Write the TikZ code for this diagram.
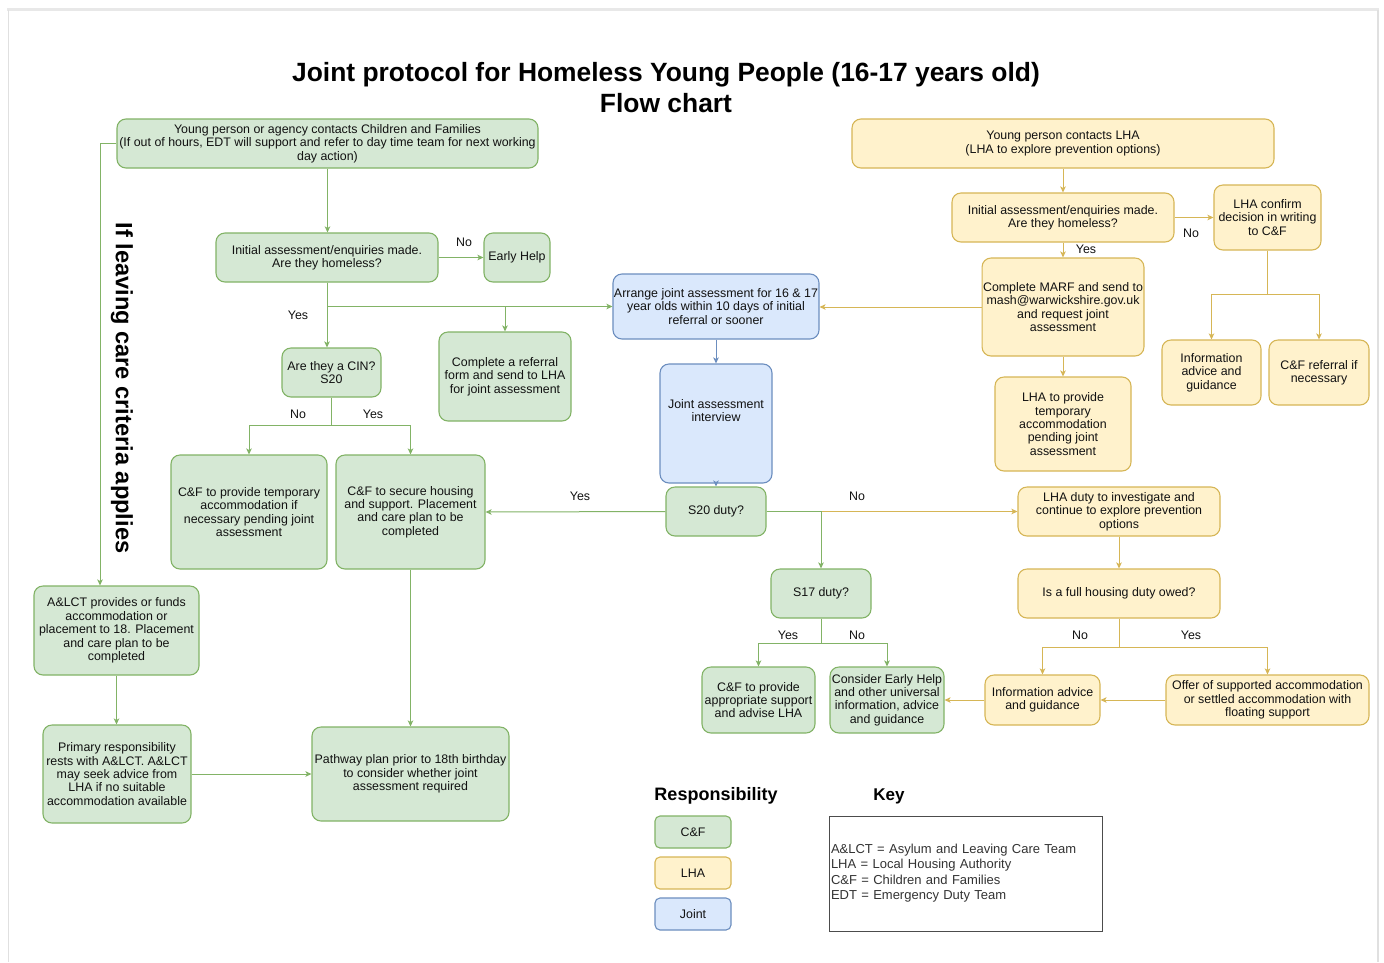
\documentclass[tikz,border=0pt]{standalone}
\usepackage{fontspec}
\setmainfont{Liberation Sans}
\usetikzlibrary{arrows.meta,calc}
\definecolor{cffill}{HTML}{D5E8D4}
\definecolor{cfline}{HTML}{82B366}
\definecolor{lhafill}{HTML}{FFF2CC}
\definecolor{lhaline}{HTML}{D6B656}
\definecolor{jtfill}{HTML}{DAE8FC}
\definecolor{jtline}{HTML}{6C8EBF}
\definecolor{txt}{HTML}{111111}
\definecolor{keytxt}{HTML}{333333}
\newcommand\nfs{\fontsize{12.4}{13.4}\selectfont}
\tikzset{
  box/.style={rounded corners=9pt, line width=1.1pt, align=center, inner sep=1pt, font=\nfs, text=txt},
  cf/.style={box, fill=cffill, draw=cfline},
  lha/.style={box, fill=lhafill, draw=lhaline},
  jt/.style={box, fill=jtfill, draw=jtline},
  tip/.style={-{Stealth[length=6pt,width=5.5pt,inset=1.5pt]}},
  garr/.style={draw=cfline, line width=1pt, tip},
  yarr/.style={draw=lhaline, line width=1pt, tip},
  barr/.style={draw=jtline, line width=1pt, tip},
  lbl/.style={font=\nfs, text=txt, inner sep=0pt},
}
\begin{document}
\begin{tikzpicture}[x=1pt,y=-1pt]
\useasboundingbox (0,0) rectangle (1384,962);
\fill[white] (0,0) rectangle (1384,962);
% frame
\draw[line width=3pt, draw=black!9] (7,9.5) -- (1379,9.5);
\draw[line width=1.5pt, draw=black!12] (8.5,9.5) -- (8.5,962);
\draw[line width=2pt, draw=black!12] (1378,9.5) -- (1378,962);

% title
\node[align=center, font=\fontsize{26.4}{31}\selectfont\bfseries, text=black] (title) at (666,87.5)
  {Joint protocol for Homeless Young People (16-17 years old)\\Flow chart};

% vertical text
\node[rotate=-90, font=\fontsize{23.6}{26}\selectfont\bfseries, text=black] (leaving) at (122,388)
  {If leaving care criteria applies};

% C&F side
\node[cf, minimum width=421pt, minimum height=49pt] (ypcf) at (327.5,143.5)
  {Young person or agency contacts Children and Families\\(If out of hours, EDT will support and refer to day time team for next working\\day action)};
\node[cf, minimum width=222pt, minimum height=49pt] (init1) at (327,257.5)
  {Initial assessment/enquiries made.\\Are they homeless?};
\node[cf, minimum width=66pt, minimum height=49pt] (early) at (517,257.5) {Early Help};
\node[cf, minimum width=99pt, minimum height=49pt] (cin) at (331.5,372.5) {Are they a CIN?\\S20};
\node[cf, minimum width=132pt, minimum height=89pt] (refer) at (505,376.5)
  {Complete a referral\\form and send to LHA\\for joint assessment};
\node[cf, minimum width=156pt, minimum height=114pt] (cftemp) at (249,512)
  {C\&F to provide temporary\\accommodation if\\necessary pending joint\\assessment};
\node[cf, minimum width=149pt, minimum height=114pt] (cfsecure) at (410.5,512)
  {C\&F to secure housing\\and support. Placement\\and care plan to be\\completed};
\node[cf, minimum width=165pt, minimum height=89pt] (alct) at (116.5,630.5)
  {A\&LCT provides or funds\\accommodation or\\placement to 18. Placement\\and care plan to be\\completed};
\node[cf, minimum width=148pt, minimum height=98pt] (primary) at (117,774)
  {Primary responsibility\\rests with A\&LCT. A\&LCT\\may seek advice from\\LHA if no suitable\\accommodation available};
\node[cf, minimum width=197pt, minimum height=94pt] (pathway) at (410.5,774)
  {Pathway plan prior to 18th birthday\\to consider whether joint\\assessment required};

% joint
\node[jt, minimum width=206pt, minimum height=65pt] (arrange) at (716,306.5)
  {Arrange joint assessment for 16 \& 17\\year olds within 10 days of initial\\referral or sooner};
\node[jt, minimum width=112pt, minimum height=119pt] (interview) at (716,423.5)
  {\raisebox{33pt}{\begin{tabular}{@{}c@{}}Joint assessment\\interview\end{tabular}}};

\node[cf, minimum width=100pt, minimum height=49pt] (s20) at (716,511.5) {S20 duty?};
\node[cf, minimum width=100pt, minimum height=49pt] (s17) at (821,593.5) {S17 duty?};
\node[cf, minimum width=113pt, minimum height=66pt] (cfsupport) at (758.5,700)
  {C\&F to provide\\appropriate support\\and advise LHA};
\node[cf, minimum width=114pt, minimum height=66pt] (consider) at (887,700)
  {Consider Early Help\\and other universal\\information, advice\\and guidance};

% LHA side
\node[lha, minimum width=422pt, minimum height=49pt] (ypl) at (1063,143.5)
  {Young person contacts LHA\\(LHA to explore prevention options)};
\node[lha, minimum width=222pt, minimum height=49pt] (init2) at (1063,217.5)
  {Initial assessment/enquiries made.\\Are they homeless?};
\node[lha, minimum width=107pt, minimum height=65pt] (confirm) at (1267.5,217.5)
  {LHA confirm\\decision in writing\\to C\&F};
\node[lha, minimum width=160pt, minimum height=98pt] (marf) at (1063,307)
  {Complete MARF and send to\\mash@warwickshire.gov.uk\\and request joint\\assessment};
\node[lha, minimum width=136pt, minimum height=94pt] (lhatemp) at (1063,424)
  {LHA to provide\\temporary\\accommodation\\pending joint\\assessment};
\node[lha, minimum width=99pt, minimum height=65pt] (info1) at (1211.5,372.5)
  {Information\\advice and\\guidance};
\node[lha, minimum width=100pt, minimum height=65pt] (cfref) at (1319,372.5)
  {C\&F referral if\\necessary};
\node[lha, minimum width=202pt, minimum height=49pt] (lhaduty) at (1119,511.5)
  {LHA duty to investigate and\\continue to explore prevention\\options};
\node[lha, minimum width=202pt, minimum height=49pt] (fullduty) at (1119,593.5)
  {Is a full housing duty owed?};
\node[lha, minimum width=115pt, minimum height=50pt] (info2) at (1042.5,700)
  {Information advice\\and guidance};
\node[lha, minimum width=203pt, minimum height=50pt] (offer) at (1267.5,700)
  {Offer of supported accommodation\\or settled accommodation with\\floating support};

% connectors - C&F
\draw[garr] (ypcf.south) -- (ypcf.south |- init1.north);
\draw[garr] (ypcf.west) -| ([xshift=-16.5pt]alct.north);
\draw[garr] (init1.east) -- (early.west);
\draw[garr] (init1.south) -- (init1.south |- cin.north);
\draw[garr] (init1.south) |- (arrange.west);
\draw[garr] (init1.south) |- (refer.north |- arrange.west) -- (refer.north);
\draw[garr] (cin.south) -- ++(0,28) -| (cftemp.north);
\draw[garr] (cin.south) -- ++(0,28) -| (cfsecure.north);
\draw[garr] (s20.west) -- (cfsecure.east);
\draw[yarr] (s20.east) -- (lhaduty.west);
\draw[garr] (s20.east) -| (s17.north);
\draw[garr] (cfsecure.south) -- (pathway.north);
\draw[garr] (alct.south) -- (alct.south |- primary.north);
\draw[garr] (primary.east) -- (pathway.west);
\draw[garr] (s17.south) -- ++(0,25) -| (cfsupport.north);
\draw[garr] (s17.south) -- ++(0,25) -| (consider.north);
% joint
\draw[barr] (arrange.south) -- (interview.north);
\draw[barr] (interview.south) -- (s20.north);
% LHA
\draw[yarr] (ypl.south) -- (init2.north);
\draw[yarr] (init2.east) -- (confirm.west |- init2.east);
\draw[yarr] (init2.south) -- (marf.north);
\draw[yarr] (marf.west) -- (arrange.east |- marf.west);
\draw[yarr] (marf.south) -- (lhatemp.north);
\draw[yarr] (confirm.south) -- ++(0,44) -| (info1.north);
\draw[yarr] (confirm.south) -- ++(0,44) -| (cfref.north);
\draw[yarr] (lhaduty.south) -- (fullduty.north);
\draw[yarr] (fullduty.south) -- ++(0,29) -| (info2.north);
\draw[yarr] (fullduty.south) -- ++(0,29) -| (offer.north);
\draw[yarr] (offer.west) -- (info2.east);
\draw[yarr] (info2.west) -- (consider.east);

% labels
\node[lbl] (l1) at (464,242) {No};
\node[lbl] (l2) at (298,315) {Yes};
\node[lbl] (l3) at (298,414) {No};
\node[lbl] (l4) at (373,414) {Yes};
\node[lbl] (l5) at (580,496) {Yes};
\node[lbl] (l6) at (857,496) {No};
\node[lbl] (l7) at (788,635) {Yes};
\node[lbl] (l8) at (857,635) {No};
\node[lbl] (l9) at (1191,233) {No};
\node[lbl] (l10) at (1086,249) {Yes};
\node[lbl] (l11) at (1080,635) {No};
\node[lbl] (l12) at (1191,635) {Yes};

% legend
\node[font=\fontsize{18}{20}\selectfont\bfseries, text=black] (resp) at (716,796) {Responsibility};
\node[font=\fontsize{17}{20}\selectfont\bfseries, text=black] (key) at (889,796) {Key};
\node[cf, minimum width=76pt, minimum height=32pt, rounded corners=5pt] (lcf) at (693,832) {C\&F};
\node[lha, minimum width=76pt, minimum height=32pt, rounded corners=5pt] (llha) at (693,873) {LHA};
\node[jt, minimum width=76pt, minimum height=32pt, rounded corners=5pt] (ljt) at (693,914) {Joint};
\node[draw=black!70, line width=0.9pt, fill=white, minimum width=273pt, minimum height=115pt, text width=269pt, inner sep=2pt, align=left, font=\fontsize{13}{15.4}\selectfont, text=keytxt] (keybox) at (965.5,873.5)
  {\raisebox{-5pt}{\begin{tabular}{@{}l@{}}A\&LCT = Asylum and Leaving Care Team\\LHA = Local Housing Authority\\C\&F = Children and Families\\EDT = Emergency Duty Team\end{tabular}}};
\end{tikzpicture}
\end{document}
